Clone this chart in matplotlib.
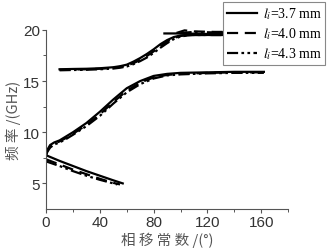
import numpy as np
import matplotlib
matplotlib.use('Agg')
import matplotlib.pyplot as plt

plt.rcParams['font.family'] = ['Liberation Sans', 'Noto Sans CJK SC']
plt.rcParams['mathtext.fontset'] = 'stix'

# lower branch (decreasing)
a_x = {'3.7': [0, 10, 20, 30, 40, 50, 57],
       '4.0': [0, 10, 20, 30, 40, 50, 55],
       '4.3': [0, 10, 20, 30, 40, 50, 53]}
a_y = {'3.7': [7.75, 7.2, 6.7, 6.2, 5.75, 5.3, 5.0],
       '4.0': [7.35, 6.85, 6.35, 5.9, 5.45, 5.05, 4.9],
       '4.3': [7.15, 6.7, 6.2, 5.75, 5.35, 5.0, 4.9]}

# rising branch 8 -> 16 GHz
b_x = [0, 1, 3, 6, 10, 15, 20, 30, 40, 50, 60, 70, 80, 90, 100, 120, 140, 162]
b_y = {'3.7': [7.8, 8.3, 8.75, 9.0, 9.2, 9.6, 10.0, 10.9, 12.0, 13.2, 14.3, 15.0, 15.5, 15.7, 15.8, 15.85, 15.9, 15.9],
       '4.0': [7.8, 8.2, 8.6, 8.9, 9.1, 9.45, 9.85, 10.7, 11.75, 12.95, 14.05, 14.85, 15.35, 15.6, 15.7, 15.8, 15.85, 15.85],
       '4.3': [7.8, 8.1, 8.5, 8.8, 9.0, 9.35, 9.75, 10.6, 11.6, 12.8, 13.9, 14.7, 15.25, 15.55, 15.65, 15.75, 15.8, 15.8]}

# upper branch 16 -> 19.5 GHz
c_x = [10, 20, 30, 40, 50, 55, 60, 65, 70, 75, 80, 85, 90, 95, 100, 105, 110, 120, 140]
c_y = {'3.7': [16.15, 16.18, 16.2, 16.25, 16.35, 16.45, 16.6, 16.9, 17.25, 17.65, 18.1, 18.6, 19.0, 19.3, 19.45, 19.5, 19.5, 19.5, 19.5],
       '4.0': [16.1, 16.12, 16.15, 16.2, 16.28, 16.38, 16.5, 16.75, 17.05, 17.45, 17.9, 18.4, 18.85, 19.2, 19.4, 19.5, 19.5, 19.5, 19.5],
       '4.3': [16.05, 16.08, 16.1, 16.15, 16.22, 16.3, 16.42, 16.65, 16.95, 17.3, 17.75, 18.25, 18.7, 19.1, 19.35, 19.45, 19.5, 19.5, 19.5]}

# top branch near 19.7 GHz
d_x = {'3.7': [88, 100, 120, 140],
       '4.0': [97, 103, 110, 125, 140],
       '4.3': [100, 110, 125, 140]}
d_y = {'3.7': [19.65, 19.65, 19.6, 19.6],
       '4.0': [19.7, 19.95, 19.85, 19.8, 19.8],
       '4.3': [19.7, 19.8, 19.75, 19.75]}

styles = {'3.7': dict(ls='-'),
          '4.0': dict(ls=(0, (5, 3))),
          '4.3': dict(ls=(0, (5, 1.5, 1.2, 1.5, 1.2, 1.5)))}

fig = plt.figure(figsize=(3.27, 2.53), dpi=100)
ax = fig.add_axes([0.141, 0.17, 0.74, 0.708])

for k in ['3.7', '4.0', '4.3']:
    st = styles[k]
    ax.plot(a_x[k], a_y[k], color='black', lw=1.6, **st, label=r'$l_i$=' + k + ' mm')
    ax.plot(b_x, b_y[k], color='black', lw=1.6, **st)
    ax.plot(c_x, c_y[k], color='black', lw=1.6, **st)
    ax.plot(d_x[k], d_y[k], color='black', lw=1.6, **st, clip_on=False)

ax.set_xlim(0, 180)
ax.set_ylim(2.5, 20)
ax.set_xticks([0, 40, 80, 120, 160])
ax.set_xticks([20, 60, 100, 140, 180], minor=True)
ax.set_yticks([5, 10, 15, 20])
ax.set_yticks([7.5, 12.5, 17.5], minor=True)
ax.spines['top'].set_visible(False)
ax.spines['right'].set_visible(False)
for s in ['left', 'bottom']:
    ax.spines[s].set_color('#555555')
    ax.spines[s].set_linewidth(0.8)
ax.tick_params(which='major', length=3, width=0.8, color='#555555',
               labelsize=11, labelcolor='#333333', pad=1.5)
ax.tick_params(which='minor', length=2, width=0.7, color='#555555')

ax.set_xlabel('相 移 常 数 /(°)', fontsize=10.5, color='#555555', labelpad=2,
              family=['Noto Sans CJK SC', 'DejaVu Sans'])
ax.set_ylabel('频 率 /(GHz)', fontsize=10.5, color='#555555', labelpad=1,
              family=['Noto Sans CJK SC', 'DejaVu Sans'])

leg = ax.legend(loc='upper right', bbox_to_anchor=(0.995, 0.988),
                bbox_transform=fig.transFigure, borderaxespad=0,
                prop={'family': 'Liberation Serif', 'size': 10},
                handlelength=2.2, handletextpad=0.4, labelspacing=0.3,
                borderpad=0.25, fancybox=False, framealpha=1)
leg.get_frame().set_edgecolor('#888888')
leg.get_frame().set_linewidth(0.8)

fig.savefig('out.png', dpi=100)
